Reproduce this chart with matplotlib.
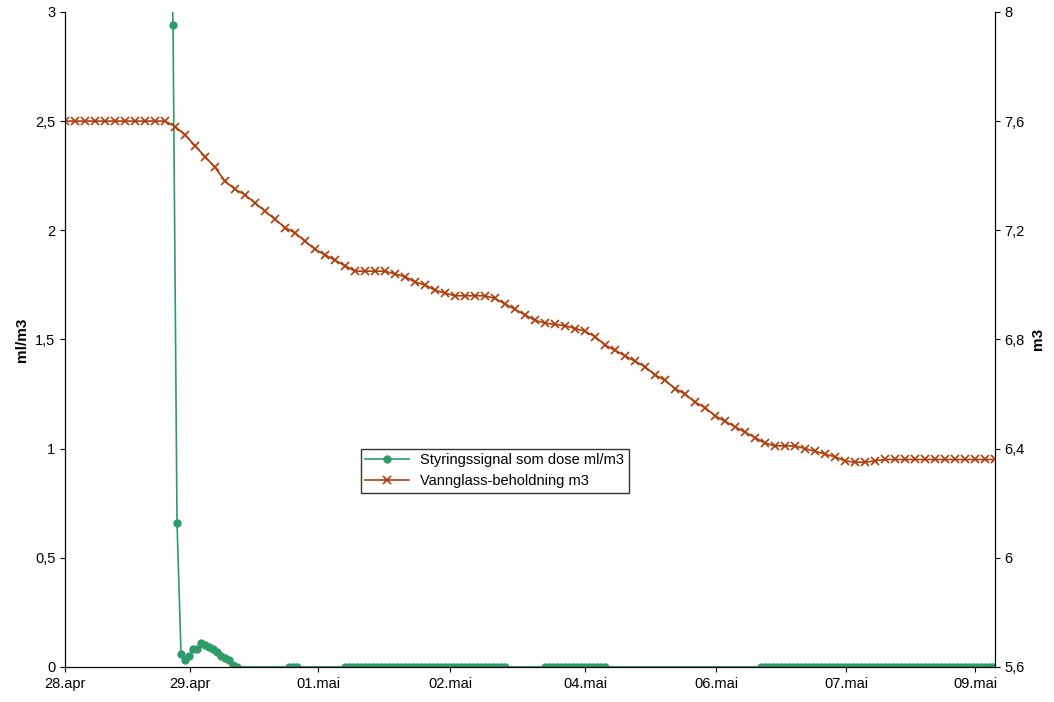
import matplotlib
matplotlib.use("Agg")
import matplotlib.pyplot as plt
import numpy as np

plt.rcParams['font.family'] = ['Liberation Sans', 'DejaVu Sans']

tick_labels = ["28.apr", "29.apr", "01.mai", "02.mai", "04.mai", "06.mai", "07.mai", "09.mai"]
tick_pos = [0, 31.25, 63.25, 96.25, 130, 162.75, 195.25, 227.5]

# dose signal (ml/m3), sampled every index step, starting at index 26
dose_start = 26
dose_head = [3.6, 2.94, 0.66, 0.06, 0.03, 0.05, 0.08, 0.08, 0.11, 0.10, 0.09, 0.08,
             0.07, 0.05, 0.04, 0.03, 0.01, 0.0]
dose_tail_len = 232 - (dose_start + len(dose_head)) + 1
dose = dose_head + [0.0] * dose_tail_len
marker_ranges = [(27, 43), (56, 58), (70, 110), (120, 135), (174, 232)]

# water glass stock (m3), every 2.5 index steps
stock = [7.6] * 11 + [7.58, 7.55, 7.51, 7.47, 7.43, 7.38, 7.35, 7.33, 7.30, 7.27, 7.24, 7.21,
    7.19, 7.16, 7.13, 7.11, 7.09, 7.07, 7.05, 7.05, 7.05, 7.05, 7.04, 7.03, 7.01, 7.00,
    6.98, 6.97, 6.96, 6.96, 6.96, 6.96, 6.95, 6.93, 6.91, 6.89, 6.87, 6.86, 6.855, 6.85,
    6.84, 6.83, 6.81, 6.78, 6.76, 6.74, 6.72, 6.70, 6.67, 6.65, 6.62, 6.60, 6.57, 6.55,
    6.52, 6.50, 6.48, 6.46, 6.44, 6.42, 6.41, 6.41, 6.41, 6.40, 6.39, 6.38, 6.37, 6.355,
    6.35, 6.35, 6.355, 6.36, 6.36, 6.36] + [6.36] * 9

fig = plt.figure(figsize=(10.54, 7.02), dpi=100)
ax = fig.add_axes([0.0617, 0.05, 0.8823, 0.933])
ax2 = ax.twinx()

green = "#2f9a6a"
orange = "#b03c0a"

xd = np.arange(dose_start, dose_start + len(dose))
mk = [i - dose_start for a, b in marker_ranges for i in range(a, b + 1) if i - dose_start < len(dose)]
l1, = ax.plot(xd, dose, color=green, lw=1.2, marker='o', ms=5, markevery=mk,
              label="Styringssignal som dose ml/m3")
xs = np.arange(len(stock)) * 2.5
l2, = ax2.plot(xs, stock, color=orange, lw=1.2, marker='x', ms=6, mew=1.2,
               label="Vannglass-beholdning m3")

ax.set_xlim(0, 232.5)
ax.set_ylim(0, 3)
ax2.set_ylim(5.6, 8)
ax.set_yticks([0, 0.5, 1, 1.5, 2, 2.5, 3])
ax.set_yticklabels(["0", "0,5", "1", "1,5", "2", "2,5", "3"])
ax2.set_yticks([5.6, 6, 6.4, 6.8, 7.2, 7.6, 8])
ax2.set_yticklabels(["5,6", "6", "6,4", "6,8", "7,2", "7,6", "8"])
ax.set_xticks(tick_pos)
ax.set_xticklabels(tick_labels)
for a in (ax, ax2):
    a.tick_params(labelsize=10.5)
    for s in ['top']:
        a.spines[s].set_visible(False)
ax.set_ylabel("ml/m3", fontweight='bold', fontsize=11)
ax2.set_ylabel("m3", fontweight='bold', fontsize=11)

ax.legend(handles=[l1, l2], loc='lower left', bbox_to_anchor=(0.31, 0.255),
          fontsize=10.5, frameon=True, fancybox=False, edgecolor='black',
          borderpad=0.3, handlelength=3)

fig.savefig("out.png", dpi=100)
